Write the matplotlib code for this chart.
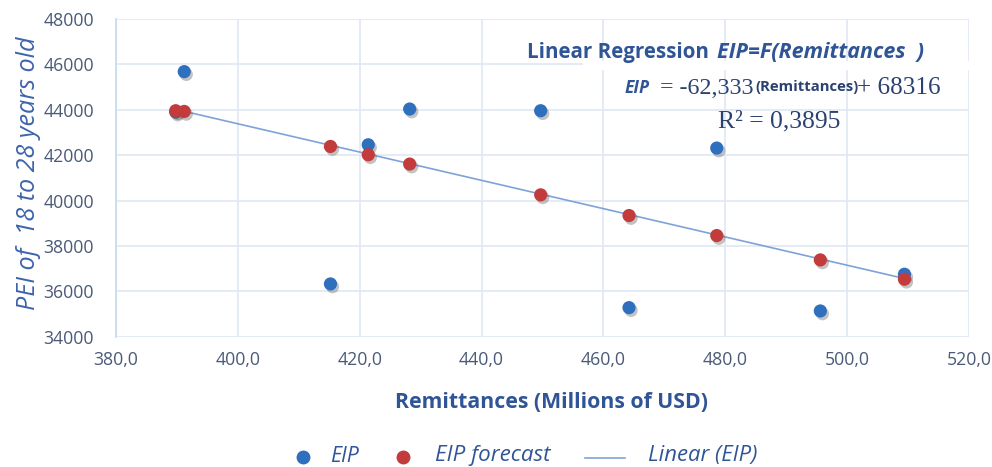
import matplotlib
matplotlib.use("Agg")
import matplotlib.pyplot as plt
import matplotlib.patheffects as pe
from matplotlib.lines import Line2D
import numpy as np

# ---- data ----
remittances = [389.8, 391.2, 415.2, 421.4, 428.2, 449.7, 464.2, 478.6, 495.6, 509.4]
eip = [43900, 45680, 36325, 42458, 44033, 43958, 35280, 42312, 35134, 36753]
eip_forecast = [43958, 43927, 42383, 42017, 41607, 40252, 39339, 38457, 37384, 36533]
slope = -62.333
intercept = 68316
x_ticks = [380, 400, 420, 440, 460, 480, 500, 520]
y_ticks = [34000, 36000, 38000, 40000, 42000, 44000, 46000, 48000]
x_tick_labels = ["380,0", "400,0", "420,0", "440,0", "460,0", "480,0", "500,0", "520,0"]
series_names = ["EIP", "EIP forecast", "Linear (EIP)"]

W, H = 992, 467
fig = plt.figure(figsize=(W / 100, H / 100), dpi=100)
ax = fig.add_axes([116 / W, 1 - 336.7 / H, (969 - 116) / W, (336.7 - 19) / H])

FONT = "Open Sans"
blue = "#2e6fbe"
red = "#c33b3b"
line_c = "#7ea3d8"
grid_c = "#dfe8f4"
tick_c = "#4a5a78"
title_c = "#2f5597"
navy = "#2b4170"

shadow = [pe.SimplePatchShadow(offset=(1.5, -2), shadow_rgbFace="#555555", alpha=0.35), pe.Normal()]

xl = np.array([min(remittances), max(remittances)])
ax.plot(xl, slope * xl + intercept, color=line_c, lw=1.2, zorder=2)
ax.scatter(remittances, eip, s=90, color=blue, zorder=3, path_effects=shadow, linewidths=0)
ax.scatter(remittances, eip_forecast, s=90, color=red, zorder=4, path_effects=shadow, linewidths=0)

ax.set_xlim(380, 520)
ax.set_ylim(34000, 48000)
ax.set_xticks(x_ticks)
ax.set_xticklabels(x_tick_labels)
ax.set_yticks(y_ticks)
ax.grid(True, color=grid_c, lw=1.2)
ax.set_axisbelow(True)
for s in ["top", "right", "bottom"]:
    ax.spines[s].set_visible(False)
ax.spines["left"].set_color("#c9d8ef")
ax.spines["left"].set_linewidth(1.2)
ax.tick_params(axis="y", length=0, labelsize=11, colors=tick_c, pad=16)
ax.tick_params(axis="x", length=0, labelsize=11, colors=tick_c, pad=10)
for lab in ax.get_xticklabels() + ax.get_yticklabels():
    lab.set_fontfamily(FONT)

xlab = ax.set_xlabel("Remittances (Millions of USD)", fontsize=15, fontweight="bold",
                     color=title_c, family=FONT)
ylab = ax.set_ylabel("PEI of  18 to 28 years old", fontsize=15, style="italic",
                     color="#3d64ad", family=FONT)


def fx(x):
    return x / W


def fy(y):
    return 1 - y / H


# white patch hiding part of the 46000 grid line behind the annotation
fig.patches.append(plt.Rectangle((fx(583), fy(69)), fx(390), 8 / H,
                                 transform=fig.transFigure, color="white", zorder=1.5))

t1 = fig.text(fx(527), fy(58), "Linear Regression", fontsize=15, fontweight="bold",
              color=title_c, family=FONT, va="baseline", zorder=6)
t2 = fig.text(fx(717), fy(58), "EIP=F(Remittances  )", fontsize=15, fontweight="bold",
              style="italic", color=title_c, family=FONT, va="baseline", zorder=6)
t3 = fig.text(fx(625), fy(93), "EIP", fontsize=13, fontweight="bold", style="italic",
              color=title_c, family=FONT, va="baseline", zorder=6)
t4 = fig.text(fx(660), fy(94), "= -62,333", fontsize=17, color=navy,
              family="Liberation Serif", va="baseline", zorder=6)
t5 = fig.text(fx(755), fy(91), "(Remittances)", fontsize=10, fontweight="bold", color=navy,
              family=FONT, va="baseline", zorder=6)
t6 = fig.text(fx(857), fy(94), "+ 68316", fontsize=17, color=navy,
              family="Liberation Serif", va="baseline", zorder=6)
t7 = fig.text(fx(718), fy(127), "R² = 0,3895", fontsize=17, color=navy,
              family="Liberation Serif", va="baseline", zorder=6)

# manual legend below the plot
leg_y = 456
fig.add_artist(Line2D([fx(303)], [fy(leg_y + 1)], transform=fig.transFigure, marker="o",
                      ms=9, color=blue, ls="none"))
fig.add_artist(Line2D([fx(403)], [fy(leg_y + 1)], transform=fig.transFigure, marker="o",
                      ms=9, color=red, ls="none"))
fig.add_artist(Line2D([fx(585), fx(625)], [fy(leg_y + 2), fy(leg_y + 2)],
                      transform=fig.transFigure, color=line_c, lw=1.2))
l1 = fig.text(fx(330), fy(leg_y), series_names[0], fontsize=14, style="italic",
              color=title_c, family=FONT, va="center")
l2 = fig.text(fx(435), fy(leg_y), series_names[1], fontsize=14, style="italic",
              color=title_c, family=FONT, va="center")
l3 = fig.text(fx(648), fy(leg_y), series_names[2], fontsize=14, style="italic",
              color=title_c, family=FONT, va="center")

# scale text sizes to the widths measured on the reference
fig.canvas.draw()
r = fig.canvas.get_renderer()


def fit(t, target, use_height=False):
    bb = t.get_window_extent(r)
    cur = bb.height if use_height else bb.width
    t.set_fontsize(t.get_fontsize() * target / cur)


fit(t1, 182)
fit(t2, 208)
fit(t3, 25)
fit(t4, 93)
fit(t5, 103)
fit(t6, 83)
fit(t7, 122)
fit(l1, 29)
fit(l2, 116)
fit(l3, 110)
fit(xlab, 314)
fit(ylab, 273, use_height=True)
bbw = ax.get_yticklabels()[-1].get_window_extent(r).width
ax.tick_params(labelsize=11 * 50 / bbw)

# place axis labels at reference positions
inv = ax.transAxes.inverted()
xl_pos = inv.transform(fig.transFigure.transform((fx(552), fy(403))))
yl_pos = inv.transform(fig.transFigure.transform((fx(28), fy(173))))
ax.xaxis.set_label_coords(xl_pos[0], xl_pos[1])
xlab.set_va("center")
ax.yaxis.set_label_coords(yl_pos[0], yl_pos[1])
ylab.set_va("center")

fig.savefig("out.png", dpi=100)
